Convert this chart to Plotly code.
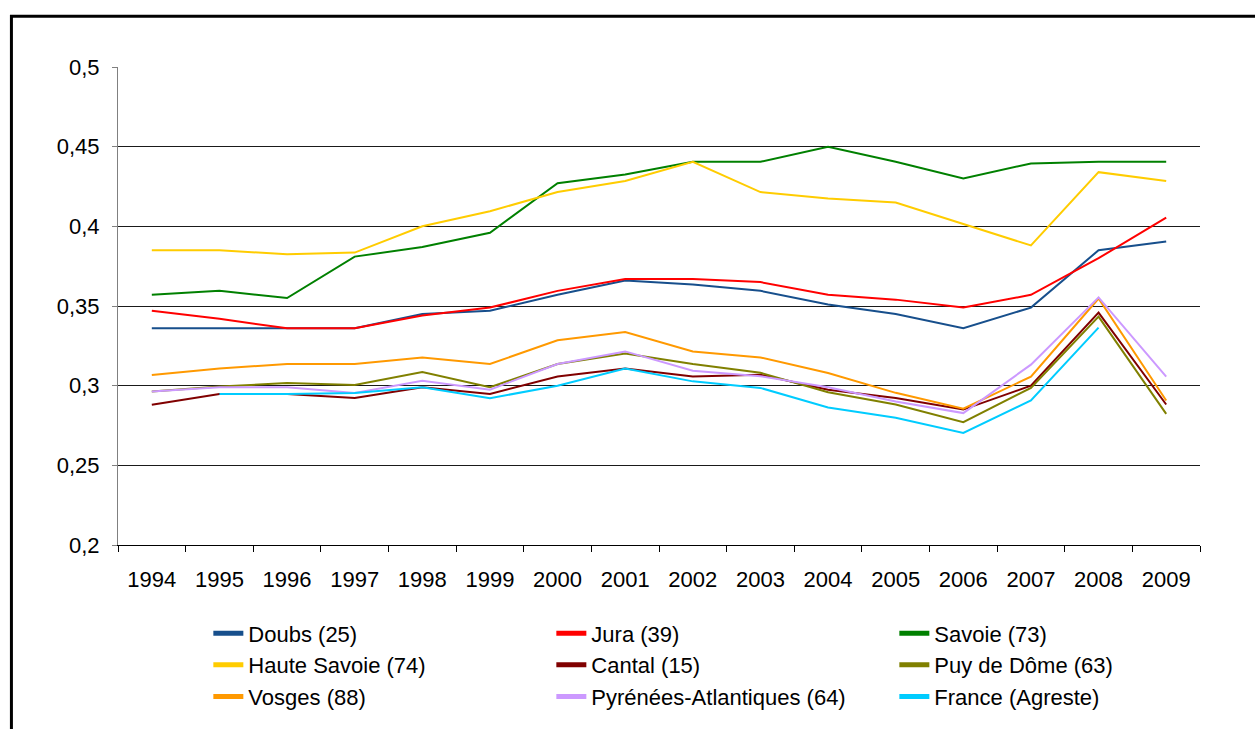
import plotly.graph_objects as go

years = [str(y) for y in range(1994, 2010)]

doubs = [0.336, 0.336, 0.336, 0.336, 0.345, 0.347, 0.357, 0.366, 0.3635, 0.3595, 0.351, 0.345, 0.336, 0.349, 0.385, 0.3905]
jura = [0.347, 0.342, 0.336, 0.336, 0.344, 0.349, 0.3595, 0.367, 0.367, 0.365, 0.357, 0.354, 0.349, 0.357, 0.380, 0.4055]
savoie = [0.357, 0.3595, 0.355, 0.381, 0.387, 0.396, 0.427, 0.4325, 0.4405, 0.4405, 0.450, 0.4405, 0.430, 0.4395, 0.4405, 0.4405]
haute_savoie = [0.385, 0.385, 0.3825, 0.3835, 0.400, 0.4095, 0.4215, 0.4285, 0.4405, 0.4215, 0.4175, 0.415, 0.4015, 0.388, 0.434, 0.4285]
cantal = [0.288, 0.2948, 0.2948, 0.2923, 0.299, 0.2948, 0.3057, 0.3108, 0.3057, 0.3069, 0.2975, 0.2923, 0.285, 0.300, 0.3458, 0.2882]
puy_de_dome = [0.2963, 0.2994, 0.3017, 0.3004, 0.3085, 0.299, 0.3136, 0.3202, 0.3136, 0.3081, 0.2959, 0.2882, 0.2771, 0.2986, 0.3433, 0.2823]
vosges = [0.3067, 0.3108, 0.3136, 0.3136, 0.3177, 0.3136, 0.3285, 0.3337, 0.3215, 0.3177, 0.308, 0.2955, 0.2855, 0.3057, 0.3547, 0.2907]
pyrenees = [0.2963, 0.299, 0.299, 0.2954, 0.3031, 0.2975, 0.3136, 0.3215, 0.3094, 0.3059, 0.299, 0.290, 0.2828, 0.3132, 0.3554, 0.3057]
france = [None, 0.2948, 0.2948, 0.2954, 0.299, 0.2921, 0.300, 0.3108, 0.3027, 0.2986, 0.2863, 0.2798, 0.2703, 0.2907, 0.3364, None]

series = [
    ("Doubs (25)", doubs, "#174F8C"),
    ("Jura (39)", jura, "#FF0000"),
    ("Savoie (73)", savoie, "#008000"),
    ("Haute Savoie (74)", haute_savoie, "#FFCC00"),
    ("Cantal (15)", cantal, "#800000"),
    ("Puy de Dôme (63)", puy_de_dome, "#808000"),
    ("Vosges (88)", vosges, "#FF9900"),
    ("Pyrénées-Atlantiques (64)", pyrenees, "#CC99FF"),
    ("France (Agreste)", france, "#00CCFF"),
]

fig = go.Figure()
for name, vals, color in series:
    fig.add_trace(go.Scatter(x=years, y=vals, name=name, mode="lines",
                             line=dict(color=color, width=2)))

FONT = "Liberation Sans, Arial, sans-serif"

fig.update_layout(
    width=1255, height=729,
    margin=dict(l=118, r=55, t=67, b=181),
    paper_bgcolor="white", plot_bgcolor="white",
    separators=", ",
    font=dict(family=FONT, size=22, color="black"),
    showlegend=True,
    legend=dict(
        orientation="h", x=0.0835, xanchor="left", y=-0.141, yanchor="top",
        entrywidth=298, entrywidthmode="pixels",
        font=dict(family=FONT, size=22, color="black"),
        bgcolor="rgba(0,0,0,0)", tracegroupgap=0, itemsizing="constant",
    ),
    shapes=[dict(type="rect", xref="paper", yref="paper",
                 x0=-0.0985, x1=1.2, y0=-0.6, y1=1.1064,
                 line=dict(color="black", width=3), fillcolor="rgba(0,0,0,0)",
                 layer="below")],
)

fig.update_xaxes(
    type="category", range=[-0.5, len(years) - 0.5],
    showgrid=False, showline=True, linecolor="black", linewidth=1,
    ticks="outside", tickson="boundaries", ticklen=6, tickcolor="black",
    ticklabelstandoff=15, tickfont=dict(family=FONT, size=22, color="black"),
    zeroline=False,
)
fig.update_yaxes(
    range=[0.2, 0.5], tickvals=[0.2, 0.25, 0.3, 0.35, 0.4, 0.45, 0.5],
    showgrid=True, gridcolor="#1a1a1a", gridwidth=1,
    showline=True, linecolor="#808080", linewidth=1,
    ticks="outside", ticklen=5, tickcolor="#808080",
    ticklabelstandoff=8, tickfont=dict(family=FONT, size=22, color="black"),
    zeroline=False,
)

fig.write_html("out.html", config={"displayModeBar": False},
               post_script="document.body.style.margin='0';")
